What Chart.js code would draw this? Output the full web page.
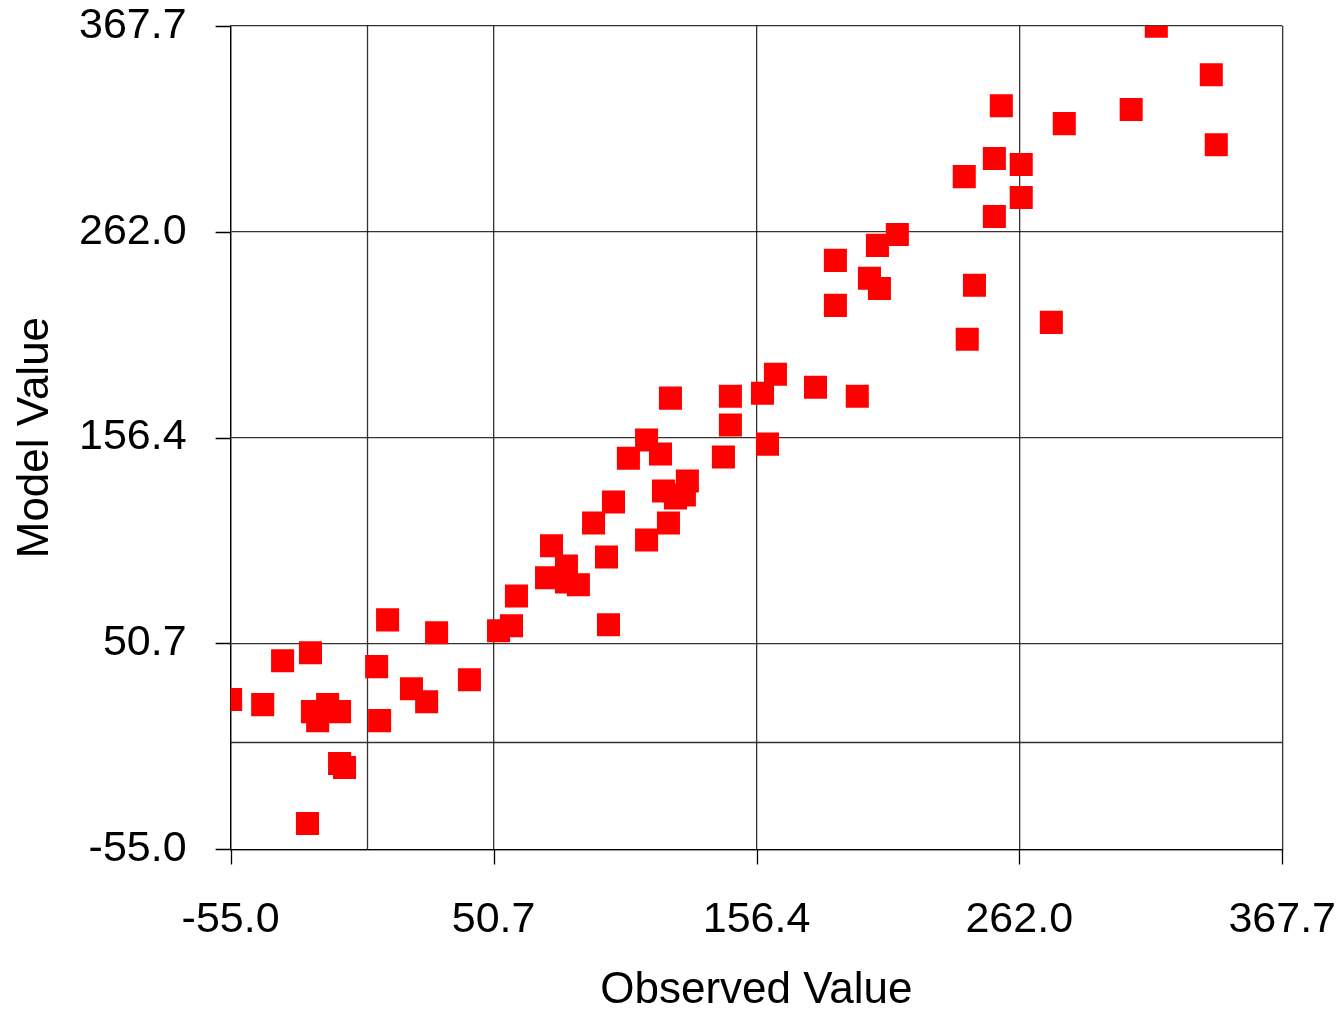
<!DOCTYPE html>
<html>
<head>
<meta charset="utf-8">
<script src="https://cdn.jsdelivr.net/npm/chart.js@4.4.1/dist/chart.umd.min.js"></script>
<style>
    html, body { margin: 0; padding: 0; background: #ffffff; overflow: hidden; }
    #wrap { width: 1336px; height: 1013px; }
</style>
</head>
<body>
<div id="wrap"><canvas id="scatterChart" width="1336" height="1013"></canvas></div>
<script>
// Observed vs model values
const observed = [
    -55.0, -42.1, -34.1, -22.9, -22.1, -20.0, -16.0, -11.2, -11.2, -9.2,
    -24.1, 3.7, 4.9, 8.1, 17.7, 23.8, 27.8, 41.0, 52.7, 57.9,
    59.9, 72.0, 74.0, 80.0, 80.0, 84.8, 90.9, 96.1, 96.9, 98.9,
    104.9, 112.2, 112.2, 117.8, 119.0, 121.0, 121.8, 123.8, 128.6, 127.4,
    143.1, 145.9, 145.9, 158.8, 160.8, 164.0, 180.1, 188.1, 188.1, 196.9,
    201.8, 205.0, 205.8, 213.0, 239.9, 241.1, 244.0, 252.0, 252.0, 254.8,
    262.8, 262.8, 274.9, 280.1, 307.0, 317.1, 339.2, 341.2
];
const modelled = [
    21.9, 19.3, 41.8, 45.9, 15.7, 11.1, 19.3, 15.7, -10.9, -13.0,
    -41.7, 38.8, 11.1, 62.8, 27.5, 20.8, 56.2, 32.1, 57.2, 59.8,
    75.1, 84.4, 100.8, 82.3, 90.5, 80.8, 112.5, 95.1, 60.3, 123.3,
    145.8, 103.8, 155.1, 147.9, 128.9, 112.5, 176.6, 125.4, 134.1, 126.9,
    146.4, 177.6, 162.8, 179.1, 153.0, 188.9, 182.2, 247.3, 224.2, 177.6,
    238.1, 255.0, 232.9, 260.6, 290.3, 206.8, 234.5, 299.6, 269.8, 326.7,
    296.5, 279.6, 215.5, 317.5, 324.7, 367.5, 342.6, 306.7
];
const tickValues = [-55.0, 50.7, 156.4, 262.0, 367.7];
const axisMin = -55.0;
const axisMax = 367.7;

const FONT = "'Liberation Sans', Arial, sans-serif";
const GRID = "rgba(0,0,0,0.8)";
const TICK = 15;   // visible tick mark length
const GAP = 28;    // space between tick mark and label

// zero lines and the short outside tick marks
const axisExtras = {
    id: "axisExtras",
    beforeDatasetsDraw(chart) {
        const { ctx, chartArea: a, scales: { x, y } } = chart;
        const x0 = Math.round(x.getPixelForValue(0)) + 0.5;
        const y0 = Math.round(y.getPixelForValue(0)) + 0.5;
        ctx.save();
        ctx.strokeStyle = GRID;
        ctx.lineWidth = 1.3;
        ctx.beginPath();
        ctx.moveTo(x0, a.top);
        ctx.lineTo(x0, a.bottom);
        ctx.moveTo(a.left, y0);
        ctx.lineTo(a.right, y0);
        ctx.stroke();

        ctx.strokeStyle = "#000";
        ctx.beginPath();
        tickValues.forEach(v => {
            const px = Math.round(x.getPixelForValue(v)) + 0.5;
            ctx.moveTo(px, a.bottom);
            ctx.lineTo(px, a.bottom + TICK);
            const py = Math.round(y.getPixelForValue(v)) + 0.5;
            ctx.moveTo(a.left - TICK, py);
            ctx.lineTo(a.left, py);
        });
        ctx.stroke();
        ctx.restore();
    }
};

const points = observed.map((v, i) => ({ x: v, y: modelled[i] }));

new Chart(document.getElementById("scatterChart"), {
    type: "scatter",
    data: {
        datasets: [{
            data: points,
            pointStyle: "rect",
            pointRadius: 16.3,
            pointHoverRadius: 16.3,
            backgroundColor: "#ff0000",
            borderColor: "#ff0000",
            borderWidth: 0,
            clip: 0
        }]
    },
    options: {
        responsive: false,
        animation: false,
        events: [],
        layout: { padding: 0 },
        plugins: {
            legend: { display: false },
            tooltip: { enabled: false }
        },
        scales: {
            x: {
                type: "linear",
                min: axisMin,
                max: axisMax,
                afterBuildTicks: scale => { scale.ticks = tickValues.map(v => ({ value: v })); },
                ticks: {
                    color: "#000",
                    padding: 0,
                    maxRotation: 0,
                    autoSkip: false,
                    font: { family: FONT, size: 43 },
                    callback: v => Number(v).toFixed(1)
                },
                grid: { color: GRID, lineWidth: 1.3, tickLength: TICK + GAP + 2, tickColor: "rgba(0,0,0,0)" },
                border: { color: "#000", width: 1.3 },
                title: {
                    display: true,
                    text: "Observed Value",
                    color: "#000",
                    font: { family: FONT, size: 44, lineHeight: 1 },
                    padding: { top: 23, bottom: 0 }
                }
            },
            y: {
                type: "linear",
                min: axisMin,
                max: axisMax,
                afterBuildTicks: scale => { scale.ticks = tickValues.map(v => ({ value: v })); },
                ticks: {
                    color: "#000",
                    padding: 0,
                    autoSkip: false,
                    font: { family: FONT, size: 43 },
                    callback: v => Number(v).toFixed(1)
                },
                grid: { color: GRID, lineWidth: 1.3, tickLength: TICK + GAP + 1, tickColor: "rgba(0,0,0,0)" },
                border: { color: "#000", width: 1.3 },
                title: {
                    display: true,
                    text: "Model Value",
                    color: "#000",
                    font: { family: FONT, size: 44, lineHeight: 1 },
                    padding: { top: 14, bottom: 21 }
                }
            }
        }
    },
    plugins: [axisExtras]
});
</script>
</body>
</html>
